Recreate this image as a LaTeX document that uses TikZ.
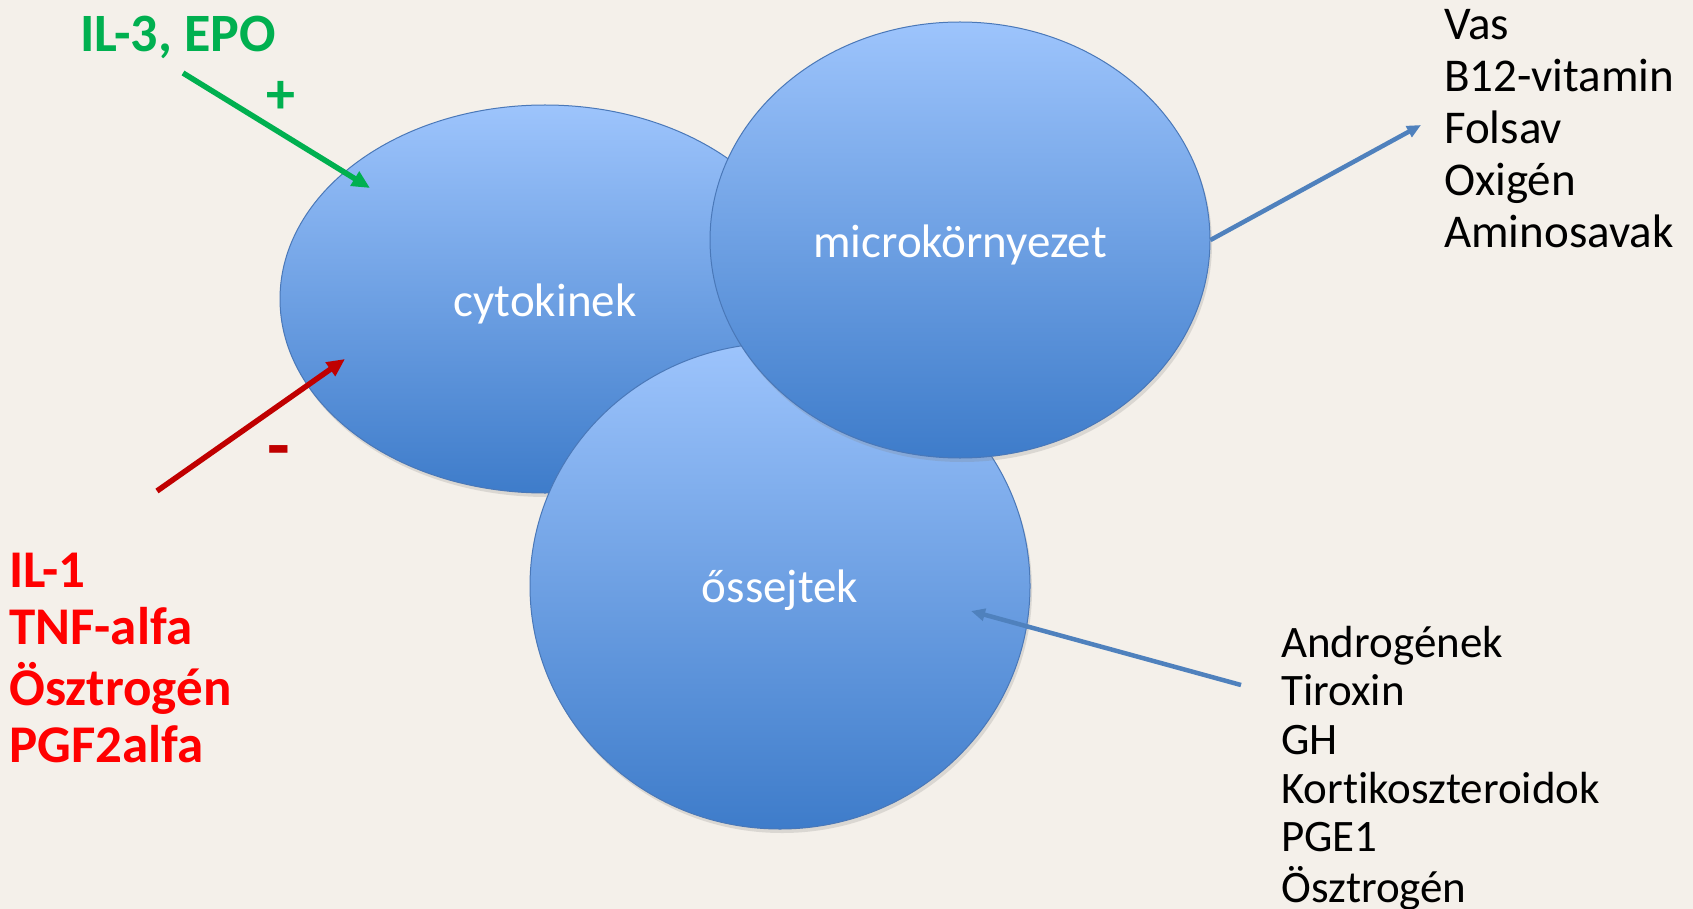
\documentclass[tikz,border=0pt]{standalone}
\usepackage{fontspec}
\setmainfont{Carlito}[RawFeature={-liga}]
\usetikzlibrary{arrows.meta,shadows,shapes.geometric}
\definecolor{bg}{RGB}{244,240,234}
\definecolor{blobtop}{RGB}{157,196,252}
\definecolor{blobbot}{RGB}{62,124,202}
\definecolor{blobline}{RGB}{74,120,184}
\definecolor{offblue}{RGB}{79,129,189}
\definecolor{plusgreen}{RGB}{0,176,80}
\definecolor{darkred}{RGB}{192,0,0}
\definecolor{brightred}{RGB}{255,0,0}
\newcommand{\lowertext}[2]{\raisebox{0pt}[\dimexpr\height+#1\relax][\depth]{#2}}
\begin{document}
\begin{tikzpicture}[x=1pt,y=-1pt,
  blob/.style={ellipse, draw=blobline, line width=1pt, top color=blobtop, bottom color=blobbot,
    text=white, font=\fontsize{47}{52}\selectfont, inner sep=0pt,
    drop shadow={opacity=0.22, shadow xshift=2pt, shadow yshift=-4pt}},
  listtext/.style={anchor=base west, inner sep=0pt, text=black},
  thickarrow/.style={line width=5.5pt, -{Triangle[length=18pt,width=16pt]}},
  bluearrow/.style={draw=offblue, line width=4.5pt, -{Triangle[length=14pt,width=12pt]}}
]
\fill[bg] (0,0) rectangle (1693,909);
\useasboundingbox (0,0) rectangle (1693,909);

\node[blob, minimum width=530pt, minimum height=388pt] (cyt) at (545,299) {\lowertext{10pt}{cytokinek}};
\node[blob, minimum width=500pt, minimum height=486pt] (oss) at (780,586) {\lowertext{8pt}{őssejtek}};
\node[blob, minimum width=500pt, minimum height=436pt] (mic) at (960,240) {\lowertext{10pt}{microkörnyezet}};

% green
\node[listtext, text=plusgreen, font=\fontsize{54}{58}\selectfont\bfseries] (il3) at (80,52) {IL-3, EPO};
\node[text=plusgreen, font=\fontsize{58}{60}\selectfont\bfseries, inner sep=0pt] (plus) at (281,97) {+};
\coordinate (gs) at (183,73);
\coordinate (ge) at (370,188);
\draw[thickarrow, draw=plusgreen] (gs) -- (ge);

% red
\node[listtext, text=brightred, font=\fontsize{53}{57.7}\selectfont\bfseries] (redlist) at (9,587)
  {\begin{tabular}[t]{@{}l@{}}IL-1\\TNF-alfa\\Ösztrogén\\PGF2alfa\end{tabular}};
\node[text=darkred, font=\fontsize{74}{76}\selectfont\bfseries, inner sep=0pt] (minus) at (279,458) {-};
\coordinate (rs) at (157,491);
\coordinate (re) at (345,359);
\draw[thickarrow, draw=darkred] (rs) -- (re);

% top right
\node[listtext, font=\fontsize{47}{52}\selectfont] (toplist) at (1444,40)
  {\begin{tabular}[t]{@{}l@{}}Vas\\B12-vitamin\\Folsav\\Oxigén\\Aminosavak\end{tabular}};
\coordinate (te) at (1421,125);
\draw[bluearrow] (mic.east) -- (te);

% bottom right
\node[listtext, font=\fontsize{45}{48.7}\selectfont] (botlist) at (1281,657)
  {\begin{tabular}[t]{@{}l@{}}Androgének\\Tiroxin\\GH\\Kortikoszteroidok\\PGE1\\Ösztrogén\end{tabular}};
\coordinate (bs) at (1241,685);
\coordinate (be) at (971,611);
\draw[bluearrow] (bs) -- (be);
\end{tikzpicture}
\end{document}
